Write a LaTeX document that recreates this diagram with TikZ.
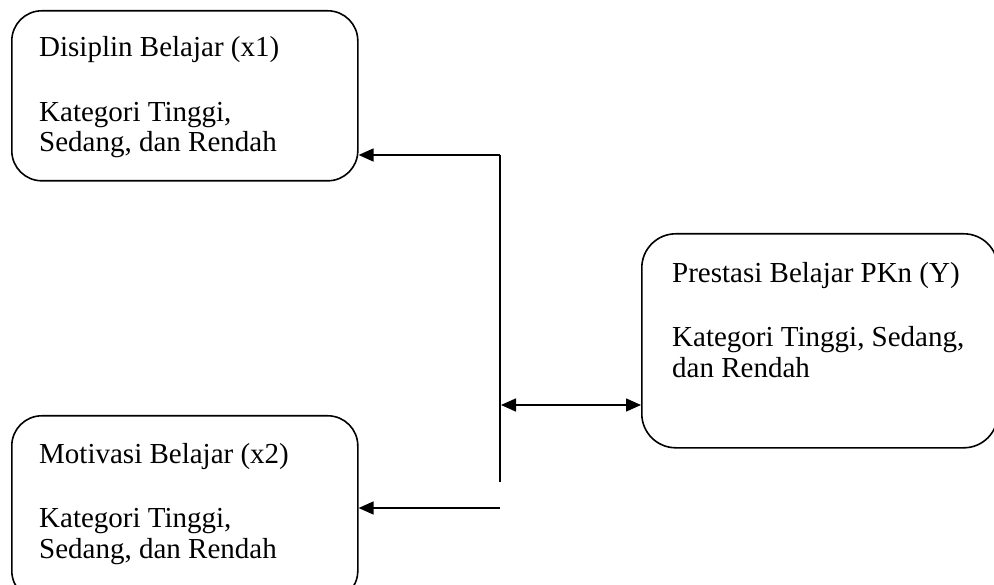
\documentclass[tikz,border=0pt]{standalone}
\usepackage{fontspec}
\setmainfont{Liberation Serif}
\usetikzlibrary{arrows.meta,calc}
\begin{document}
\begin{tikzpicture}[x=1pt,y=-1pt,
  box/.style={draw=black, line width=1.6pt, rounded corners=30pt, anchor=north west, inner sep=0pt},
  lbl/.style={anchor=base west, inner sep=0pt, font=\fontsize{29}{30}\selectfont},
  conn/.style={line width=1.6pt},
  tip/.style={-{Triangle[length=15pt,width=13pt]}}]
\useasboundingbox (0,0) rectangle (994,585);
% boxes
\node[box, minimum width=346pt, minimum height=170pt] (box1) at (11,10) {};
\node[box, minimum width=346pt, minimum height=185pt] (box2) at (11,415) {};
\node[box, minimum width=356pt, minimum height=214pt, rounded corners=34pt] (box3) at (641,233) {};
% texts
\node[lbl] (t1a) at (39,57) {Disiplin Belajar (x1)};
\node[lbl] (t1b) at (39,122) {Kategori Tinggi,};
\node[lbl] (t1c) at (39,152) {Sedang, dan Rendah};
\node[lbl] (t2a) at (39,463) {Motivasi Belajar (x2)};
\node[lbl] (t2b) at (39,527) {Kategori Tinggi,};
\node[lbl] (t2c) at (39,558) {Sedang, dan Rendah};
\node[lbl] (t3a) at (672,283) {Prestasi Belajar PKn (Y)};
\node[lbl] (t3b) at (672,347) {Kategori Tinggi, Sedang,};
\node[lbl] (t3c) at (672,378) {dan Rendah};
% connectors
\coordinate (j1) at (500,155);
\coordinate (j2) at (500,482);
\coordinate (j3) at (500,508);
\coordinate (j4) at (501,405);
\draw[conn] (j1) -- (j2);
\draw[conn, tip] (j1) -- (j1 -| box1.east);
\draw[conn, tip] (j3) -- (j3 -| box2.east);
\draw[conn, {Triangle[length=15pt,width=13pt]}-{Triangle[length=15pt,width=13pt]}] (j4) -- (j4 -| box3.west);
\end{tikzpicture}
\end{document}
